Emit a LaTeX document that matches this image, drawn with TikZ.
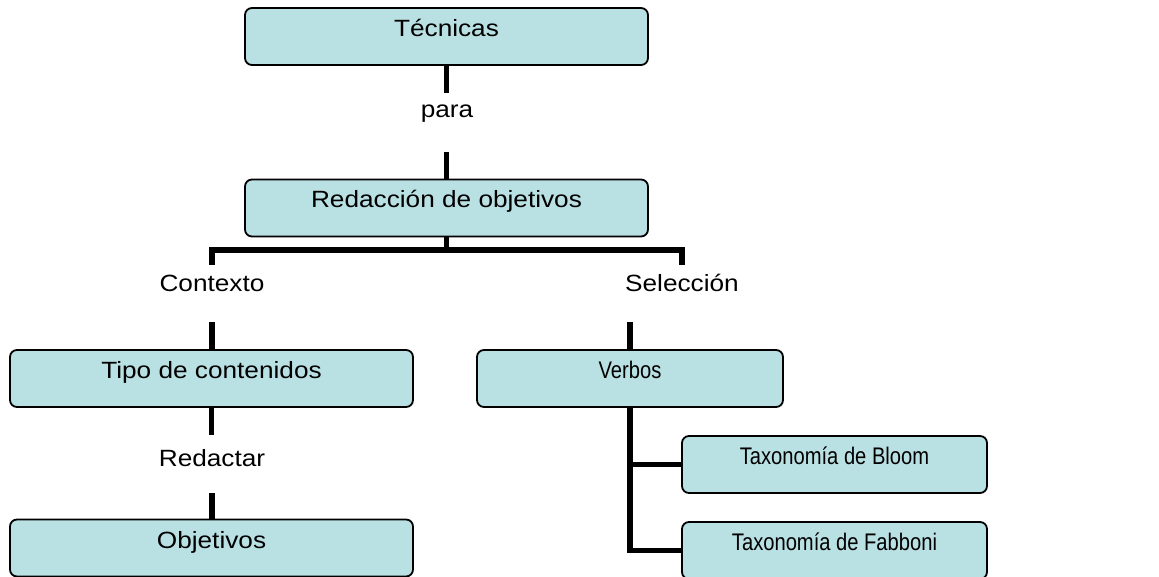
\documentclass[tikz,border=0pt]{standalone}
\usepackage{fontspec}
\setmainfont[FakeStretch=1.115]{Liberation Sans}
\newfontfamily\narrowfont[FakeStretch=0.84]{Liberation Sans}
\usetikzlibrary{backgrounds}
\definecolor{boxfill}{RGB}{185,224,227}
\tikzset{
  every node/.style={font=\fontsize{23.5}{28}\selectfont},
  box/.style={draw=black, line width=1.8pt, fill=boxfill, rounded corners=7pt,
    inner sep=0pt, text height=28.5pt, text depth=28.5pt, align=center},
  narrow/.style={font=\narrowfont\fontsize{24}{28}\selectfont},
  lbl/.style={inner sep=0pt},
  conn/.style={line width=5.8pt, draw=black}
}
\begin{document}
\begin{tikzpicture}[x=1pt,y=-1pt]
\useasboundingbox (0,0) rectangle (1159,577);
\clip (0,0) rectangle (1159,577);

\node[box, minimum width=403pt] (tec) at (446.5,36.5) {Técnicas};
\node[lbl, text height=25pt, text depth=34pt] (para) at (447,122.5) {para};
\node[box, minimum width=403pt] (red) at (446.5,208) {Redacción de objetivos};
\coordinate (bar) at (446.5,250);
\node[lbl, text height=27pt, text depth=30pt] (ctx) at (212,293.5) {Contexto};
\node[lbl, text height=27pt, text depth=30pt] (sel) at (682,293.5) {Selección};
\node[box, minimum width=403pt] (tipo) at (211.5,378.5) {Tipo de contenidos};
\node[lbl, text height=31pt, text depth=27pt] (redac) at (212,464) {Redactar};
\node[box, minimum width=403pt] (obj) at (211.5,548) {Objetivos};
\node[box, narrow, minimum width=306pt] (verb) at (630,378.5) {Verbos};
\node[box, narrow, minimum width=305pt] (bloom) at (834.5,464.5) {Taxonomía de Bloom};
\node[box, narrow, minimum width=305pt] (fab) at (834.5,550.5) {Taxonomía de Fabboni};

\begin{pgfonlayer}{background}
\draw[conn] (tec.south) -- (tec.south |- para.north);
\draw[conn] (red.north |- para.south) -- (red.north);
\draw[conn] (red.south) -- (bar);
\draw[conn] (ctx.north) |- (bar) -| (sel.north);
\draw[conn] (ctx.south) -- (ctx.south |- tipo.north);
\draw[conn] (verb.north |- sel.south) -- (verb.north);
\draw[conn] (tipo.south |- redac.north) -- (tipo.south);
\draw[conn] (redac.south) -- (redac.south |- obj.north);
\draw[conn] (verb.south) |- (bloom.west);
\draw[conn] (verb.south) |- (fab.west);
\end{pgfonlayer}
\end{tikzpicture}
\end{document}
